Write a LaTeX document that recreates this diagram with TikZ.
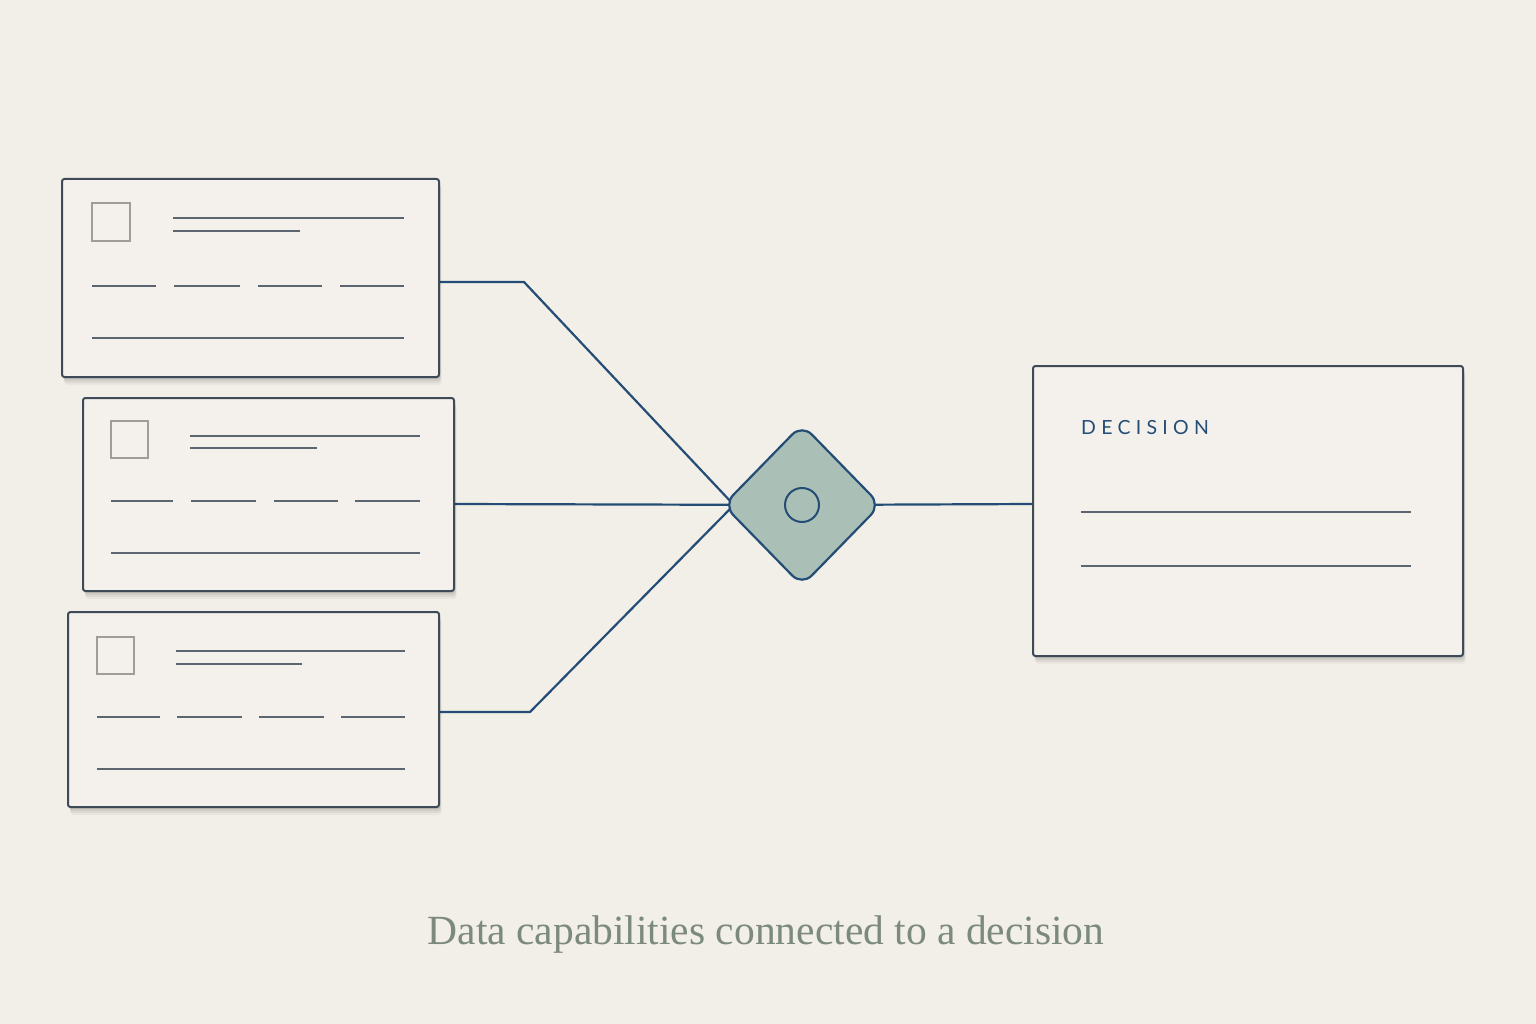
\documentclass[tikz,border=0pt]{standalone}
\usepackage{fontspec}
\setmainfont{Liberation Serif}
\newfontfamily\latofont[LetterSpace=27]{Lato}
\usetikzlibrary{shapes.geometric,shadows,backgrounds,calc}
\definecolor{bgc}{HTML}{F2EEE8}
\definecolor{cardfill}{HTML}{F4F1EC}
\definecolor{cardedge}{HTML}{3E4A58}
\definecolor{inkline}{HTML}{5C6670}
\definecolor{sqline}{HTML}{A09C98}
\definecolor{conn}{HTML}{244D76}
\definecolor{diafill}{HTML}{AAC0B6}
\definecolor{capc}{HTML}{7B8A7C}
\tikzset{
  card/.style={draw=cardedge, line width=2pt, fill=cardfill, rounded corners=2.5pt,
    rectangle, anchor=north west, inner sep=0pt,
    general shadow={shadow xshift=1pt, shadow yshift=-2pt, fill=black, opacity=0.07},
    general shadow={shadow xshift=1.5pt, shadow yshift=-4pt, fill=black, opacity=0.06},
    general shadow={shadow xshift=2pt, shadow yshift=-6pt, fill=black, opacity=0.05},
    general shadow={shadow xshift=2.5pt, shadow yshift=-8pt, fill=black, opacity=0.03}},
  ink/.style={draw=inkline, line width=1.2pt},
  sq/.style={draw=sqline, line width=1.2pt},
  link/.style={draw=conn, line width=2.2pt, line join=round},
}
\begin{document}
\begin{tikzpicture}[x=1pt,y=-1pt]
\begin{scope}[on background layer]
\fill[bgc] (0,0) rectangle (1536,1024);
\end{scope}
\useasboundingbox (0,0) rectangle (1536,1024);

% cards
\node[card, minimum width=377pt, minimum height=198pt] (c1) at (61,178) {};
\node[card, minimum width=371pt, minimum height=193pt] (c2) at (82,397) {};
\node[card, minimum width=371pt, minimum height=195pt] (c3) at (67,611) {};
\node[card, minimum width=430pt, minimum height=290pt] (dec) at (1032,365) {};

% card 1 contents
\draw[sq] (92,203) rectangle (130,241);
\draw[ink] (173,218) -- (404,218);
\draw[ink] (173,231) -- (300,231);
\draw[ink] (92,286) -- (156,286) (174,286) -- (240,286) (258,286) -- (322,286) (340,286) -- (404,286);
\draw[ink] (92,338) -- (404,338);

% card 2 contents
\draw[sq] (111,421) rectangle (148,458);
\draw[ink] (190,436) -- (420,436);
\draw[ink] (190,448) -- (317,448);
\draw[ink] (111,501) -- (173,501) (191,501) -- (256,501) (274,501) -- (338,501) (355,501) -- (420,501);
\draw[ink] (111,553) -- (420,553);

% card 3 contents
\draw[sq] (97,637) rectangle (134,674);
\draw[ink] (176,651) -- (405,651);
\draw[ink] (176,664) -- (302,664);
\draw[ink] (97,717) -- (160,717) (177,717) -- (242,717) (259,717) -- (324,717) (341,717) -- (405,717);
\draw[ink] (97,769) -- (405,769);

% decision contents
\node[anchor=west, inner sep=0pt, text=conn, font=\latofont\fontsize{19.5}{22}\selectfont] (dtitle) at (1081,428) {DECISION};
\draw[ink] (1081,512) -- (1411,512);
\draw[ink] (1081,566) -- (1411,566);

% diamond
\node[diamond, draw=conn, line width=2.2pt, fill=diafill, rounded corners=14pt,
  minimum width=158pt, minimum height=162pt, inner sep=0pt] (dia) at (802,505) {};
\node[circle, draw=conn, line width=2pt, minimum size=34pt, inner sep=0pt] (dot) at (dia.center) {};

% connectors
\begin{scope}[on background layer]
\draw[link] (c1.east |- 0,282) -- (524,282) -- ($(dia.west)+(12,0)$);
\draw[link] (c2.east |- 0,504) -- (dia.center);
\draw[link] (c3.east |- 0,712) -- (530,712) -- ($(dia.west)+(12,0)$);
\draw[link] (dia.center) -- (dec.west |- 0,504);
\end{scope}

% caption
\node[text=capc, font=\fontsize{41.5}{46}\selectfont, inner sep=0pt] (cap) at (766,935) {Data capabilities connected to a decision};
\end{tikzpicture}
\end{document}
